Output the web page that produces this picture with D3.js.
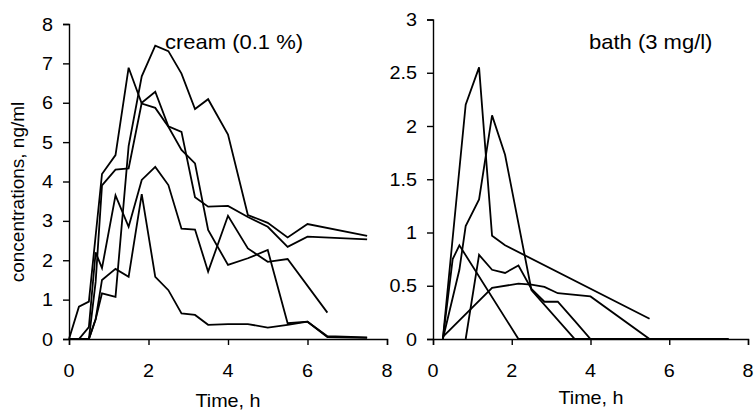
<!DOCTYPE html>
<html>
<head>
<meta charset="utf-8">
<script src="https://cdn.jsdelivr.net/npm/d3@7"></script>
<style>
  body { margin: 0; background: #fff; }
  text { font-family: "Liberation Sans", Arial, sans-serif; fill: #000; }
</style>
</head>
<body>
<script>
// sampling times (h)
const creamTimes = [0, 0.25, 0.5, 0.67, 0.83, 1.17, 1.5, 1.83, 2.17, 2.5, 2.83, 3.17, 3.5, 4, 4.5, 5, 5.5, 6, 6.5, 7.5];
const bathTimes = [0, 0.25, 0.5, 0.67, 0.83, 1.17, 1.5, 1.83, 2.17, 2.5, 2.83, 3.17, 3.6, 4, 5.5, 7.5];

// cream (0.1 %) - concentrations ng/ml, null = not sampled
const cream1 = [0, null, 0, 0.5, 1.16, 1.07, 4.9, 6.67, 7.45, 7.31, 6.74, 5.84, 6.09, 5.19, 3.15, 2.95, 2.58, 2.92, null, 2.62];
const cream2 = [0, 0.82, 0.95, null, 4.19, 4.67, 6.89, 5.98, 5.87, 5.39, 4.8, 4.46, 2.77, 1.88, 2.05, 2.26, 0.4, 0.44, 0.05, 0.03];
const cream3 = [0, null, 0, 1.45, 3.9, 4.3, 4.33, 6.0, 6.28, 5.4, 5.26, 3.6, 3.36, 3.38, 3.1, 2.85, 2.34, 2.6, null, 2.53];
const cream4 = [0, 0, 0.3, 2.2, 1.8, 3.65, 2.85, 4.04, 4.37, 3.91, 2.8, 2.78, 1.71, 3.13, 2.3, 1.96, 2.03, null, 0.67, null];
const cream5 = [0, null, 0, 0.5, 1.5, 1.78, 1.58, 3.68, 1.58, 1.24, 0.65, 0.61, 0.36, 0.38, 0.38, 0.29, 0.36, 0.44, 0.07, 0.04];

// bath (3 mg/l)
const bath1 = [null, 0, null, null, 2.2, 2.55, 0.97, 0.88, null, null, null, null, null, null, 0.19, null];
const bath2 = [null, 0, null, 0.65, 1.06, 1.31, 2.1, 1.73, null, 0.46, null, null, 0, null, null, 0];
const bath3 = [null, 0, 0.75, 0.88, null, null, null, null, 0, null, null, null, null, null, null, 0];
const bath4 = [null, null, null, null, 0, 0.79, 0.65, 0.62, 0.69, 0.47, 0.35, 0.35, 0.17, 0, null, 0];
const bath5 = [null, 0.02, null, null, null, null, 0.48, null, 0.52, 0.51, 0.49, 0.43, null, 0.4, 0, 0];

const xTicks = [0, 2, 4, 6, 8];
const creamTicks = [0, 1, 2, 3, 4, 5, 6, 7, 8];
const bathTicks = [0, 0.5, 1, 1.5, 2, 2.5, 3];

const W = 755, H = 412;
const svg = d3.select("body").append("svg")
  .attr("width", W)
  .attr("height", H);

const stretch = "scale(1.1,1)";

function label(g, x, y, txt, size, anchor) {
  return g.append("text")
    .attr("transform", `translate(${x},${y}) ${stretch}`)
    .attr("text-anchor", anchor)
    .style("font-size", size + "px")
    .text(txt);
}

function panel(opts) {
  const x = d3.scaleLinear().domain([0, 8]).range(opts.xr);
  const y = d3.scaleLinear().domain(opts.yd).range([339, opts.yTop]);
  const g = svg.append("g");

  const line = d3.line()
    .x(d => x(d[0]))
    .y(d => y(d[1]));

  opts.series.forEach(s => {
    const pts = opts.times.map((t, i) => [t, s[i]]).filter(d => d[1] !== null);
    g.append("path")
      .attr("d", line(pts))
      .attr("fill", "none")
      .attr("stroke", "#000")
      .attr("stroke-width", 1.8)
      .attr("stroke-linejoin", "miter");
  });

  // axes
  const xa = g.append("g")
    .attr("transform", `translate(0,${y(0)})`)
    .call(d3.axisBottom(x).tickValues(xTicks).tickSize(6).tickFormat(""));
  const ya = g.append("g")
    .attr("transform", `translate(${x(0)},0)`)
    .call(d3.axisLeft(y).tickValues(opts.yTicks).tickSize(6).tickFormat(""));
  [xa, ya].forEach(a => {
    a.select(".domain").attr("stroke", "#000").attr("stroke-width", 1.4);
    a.selectAll(".tick line").attr("stroke", "#000").attr("stroke-width", 1.4);
  });

  xTicks.forEach(t => label(g, x(t), 377, t, 18, "middle"));
  opts.yTicks.forEach(t => label(g, x(0) - 16, y(t) + 6.5, t, 18, "end"));

  label(g, opts.xTitleX, opts.xTitleY, "Time, h", 18, "middle");
  label(g, opts.titleX, 49, opts.title, 20, "start");
  return g;
}

panel({
  xr: [69, 387], yd: [0, 8], yTop: 24,
  times: creamTimes,
  series: [cream1, cream2, cream3, cream4, cream5],
  yTicks: creamTicks,
  title: "cream (0.1 %)", titleX: 165,
  xTitleX: 228, xTitleY: 407
});

panel({
  xr: [433, 748], yd: [0, 3], yTop: 19.5,
  times: bathTimes,
  series: [bath1, bath2, bath3, bath4, bath5],
  yTicks: bathTicks,
  title: "bath (3 mg/l)", titleX: 589,
  xTitleX: 591, xTitleY: 404
});

svg.append("text")
  .attr("transform", "translate(24,192) rotate(-90)")
  .attr("text-anchor", "middle")
  .style("font-size", "19px")
  .text("concentrations, ng/ml");
</script>
</body>
</html>
